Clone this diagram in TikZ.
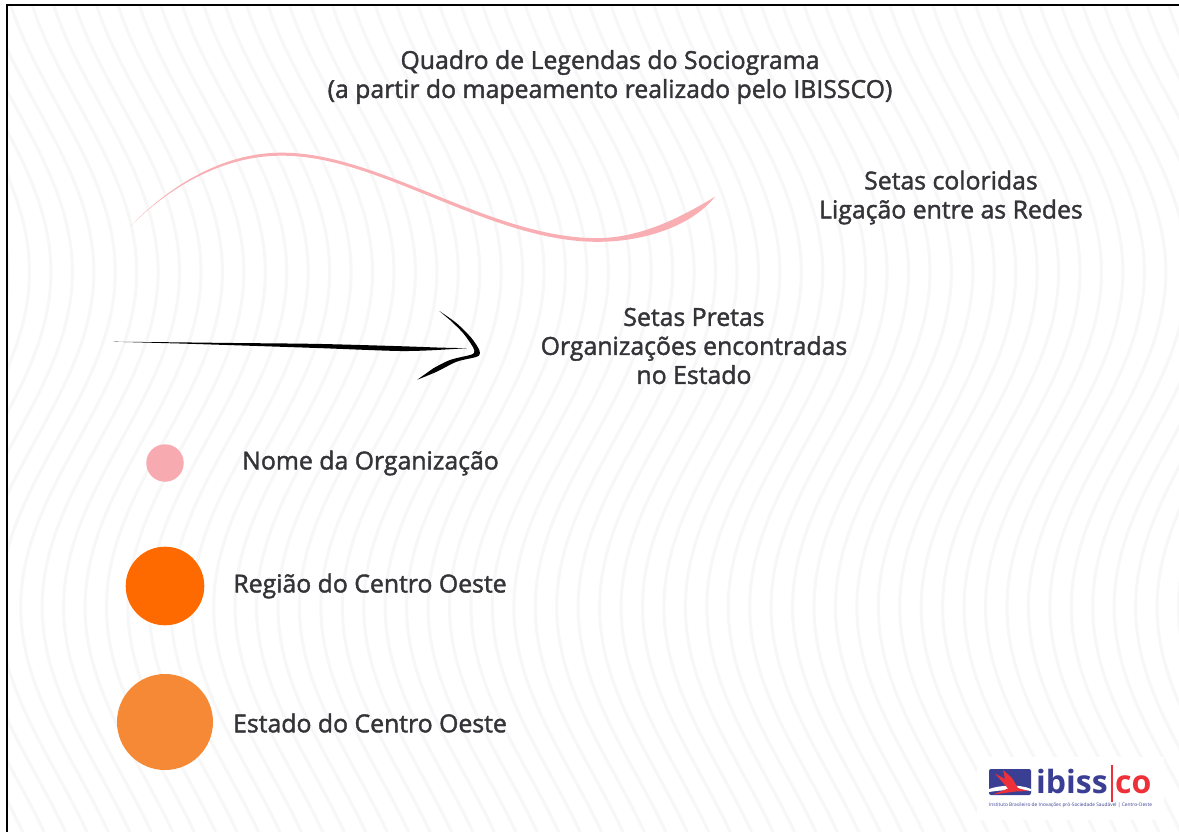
\documentclass[tikz,border=0pt]{standalone}
\usepackage{fontspec}
\setmainfont[FakeBold=1.6]{Open Sans}
\newfontfamily\logofont{Open Sans}
\usepackage{tikz}
\definecolor{wavegray}{HTML}{F7F7F7}
\definecolor{textgray}{HTML}{333338}
\definecolor{linkpink}{HTML}{F9AEB3}
\definecolor{orgpink}{HTML}{F7ABB1}
\definecolor{regionorange}{HTML}{FF6A00}
\definecolor{stateorange}{HTML}{F58936}
\definecolor{logoblue}{HTML}{3A3F94}
\definecolor{logored}{HTML}{EE3138}
\tikzset{
	legendtext/.style = {text = textgray, font = \fontsize{24.8}{29}\selectfont, align = center, inner sep = 0pt},
	legenddot/.style = {circle, inner sep = 0pt, minimum size = #1},
	logotype/.style = {inner sep = 0pt, anchor = base west, font = \logofont\bfseries\fontsize{32}{32}\selectfont}
}

\begin{document}
\begin{tikzpicture}[x = 1pt, y = -1pt]
	\useasboundingbox (0,0) rectangle (1179,832);
	\fill[white] (0,0) rectangle (1179,832);
%% wavy lines behind everything
	\begin{scope}
	\clip (7,5) rectangle (1179,832);
	\foreach \k in {-8,...,58} {
		\draw[wavegray, line width = 3pt] plot[domain = 0:832, samples = 50, smooth] ({20.7 + 21.44*\k + 58*(1 - cos((\x - 607)/670*360))}, \x);
	}
	\end{scope}
	\draw[black, line width = 2.5pt] (7,832) -- (7,5) -- (1179,5);
%% title
	\node[legendtext] (title) at (610,77) {Quadro de Legendas do Sociograma\\(a partir do mapeamento realizado pelo IBISSCO)};
%% pink link
	\fill[linkpink] (130,226.7) .. controls (165,190) and (220,152) .. (283,152.7) .. controls (380,153) and (490,238) .. (597,238.2) .. controls (640,238) and (680,218) .. (715,196.7)
		.. controls (690,228) and (640,242) .. (597,241.8) .. controls (490,241.8) and (380,156) .. (283,155.7) .. controls (220,155) and (165,191) .. (130,226.7) -- cycle;
	\node[legendtext] (linktext) at (951,197.5) {Setas coloridas\\Ligação entre as Redes};
%% black arrow
	\fill[black] plot[smooth] coordinates {(113,341.7) (183,342.4) (233,343) (317,343.9) (400,346.2) (440,347.6) (467,348.2)}
		-- plot[smooth] coordinates {(440,349.8) (400,351) (317,348) (233,345.2) (183,343.6)} -- cycle;
	\fill[black] plot[smooth] coordinates {(439.3,311) (456.7,323.3) (471.7,338.3) (479.3,350) (479.3,355) (475,357.3) (456.7,361.7) (436.7,371.7) (417.3,379.7)}
		-- plot[smooth] coordinates {(433.3,368.3) (450,360) (470,355) (474,352.7) (473.3,347.7) (463.3,333.3) (450,320)} -- cycle;
	\node[legendtext] (arrowtext) at (694,346) {Setas Pretas\\Organizações encontradas\\no Estado};
%% circles
	\node[legenddot = 37.5pt, fill = orgpink] (orgdot) at (165,463) {};
	\node[legenddot = 78.6pt, fill = regionorange] (regiondot) at (165,586) {};
	\node[legenddot = 96pt, fill = stateorange] (statedot) at (165,722) {};
	\node[legendtext] (orgtext) at (370.5,463) {Nome da Organização};
	\node[legendtext] (regiontext) at (370,586) {Região do Centro Oeste};
	\node[legendtext] (statetext) at (370,723) {Estado do Centro Oeste};
%% logo
	\fill[white] (977,757) rectangle (1164,820);
	\fill[logoblue, rounded corners = 2pt] (989,769) rectangle (1031,795);
	\fill[white] (989,789) .. controls (1000,785) and (1020,784) .. (1031,789) -- (1031,791) .. controls (1020,789) and (1000,790) .. (989,792) -- cycle;
	\fill[logored] (995,773.5) -- (1005,779) -- (1003,770) -- (1012,778) -- (1018,788) -- (1028,791) -- (1016,791.5) -- (993,794.5) -- (1008,788.5) -- cycle;
	\node[logotype, logoblue] (logoibiss) at (1036,793) {ibiss};
	\fill[logored] (1110.5,765) rectangle (1112.5,802);
	\node[logotype, logored] (logoco) at (1115,793) {co};
	\node[inner sep = 0pt, logoblue, font = \logofont\fontsize{4.85}{6}\selectfont] (logotext) at (1070.5,805.5) {Instituto Brasileiro de Inovações pró-Sociedade Saudável | Centro-Oeste};
\end{tikzpicture}
\end{document}
